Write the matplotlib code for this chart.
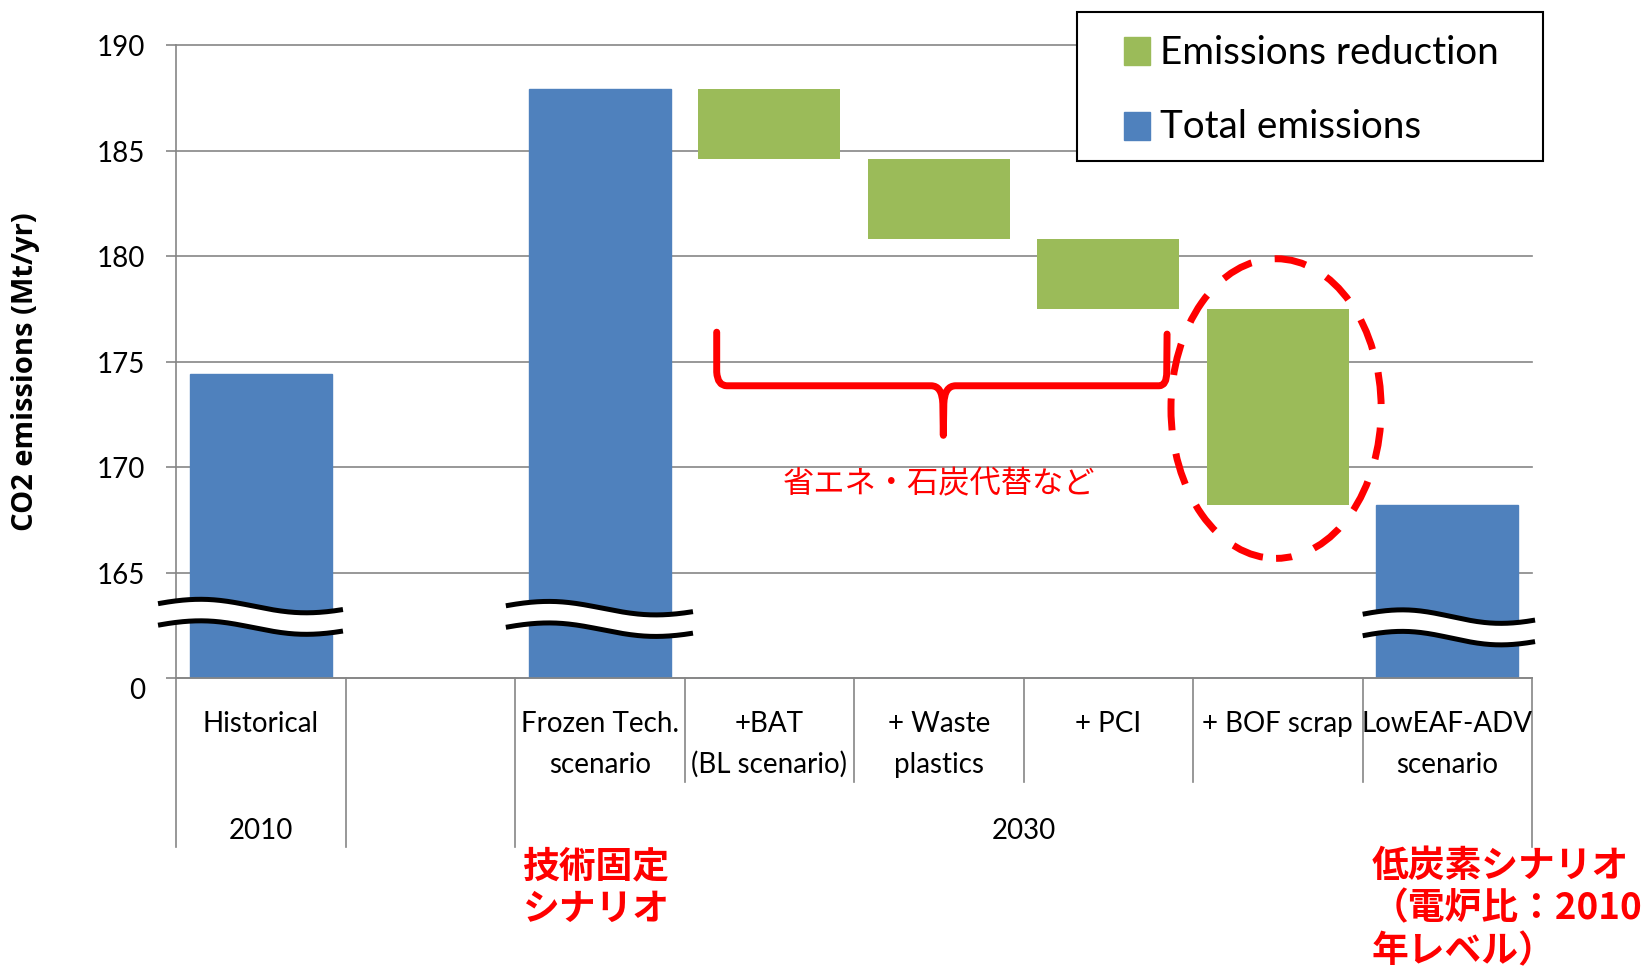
import numpy as np
import matplotlib.pyplot as plt
from matplotlib.patches import Ellipse, PathPatch, Rectangle
from matplotlib.path import Path
from matplotlib.transforms import ScaledTranslation, blended_transform_factory

plt.rcParams['font.family'] = ['Lato', 'Noto Sans CJK JP', 'DejaVu Sans']

# categories on the x axis; slot 1 is an empty spacer between 2010 and 2030
categories = ["Historical", "", "Frozen Tech.\nscenario", "+BAT\n(BL scenario)",
              "+ Waste\nplastics", "+ PCI", "+ BOF scrap", "LowEAF-ADV\nscenario"]
# total CO2 emissions (Mt/yr); 0 for the step categories, nan for the spacer
total_emissions = [174.4, np.nan, 187.9, 0, 0, 0, 0, 168.2]
# reduction of each measure, applied one after another from the frozen tech. level
reductions = [3.3, 3.8, 3.3, 9.3]
reduction_cats = [3, 4, 5, 6]
# year groups: label, first category, last category
year_groups = [("2010", 0, 0), ("2030", 2, 7)]
# broken axis: the bottom tick stands for 0
tick_values = [160, 165, 170, 175, 180, 185, 190]
tick_labels = ["0", "165", "170", "175", "180", "185", "190"]
FLOOR = 160

BLUE = "#4F81BD"
GREEN = "#9BBB59"
GRID = "#868686"
RED = "#FF0000"

W, H = 1642, 970


def fx(px):
    return px / W


def fy(py):
    return 1 - py / H


def draw_break(ax, left, right, mid):
    # white band between two wavy black lines, drawn over the bar
    t = np.linspace(0, 1, 150)
    wave = np.where(t < 0.23, np.cos(1.21 * (0.23 - t) / 0.23),
                    np.where(t < 0.8, np.cos(np.pi * (t - 0.23) / 0.57),
                             -np.cos(1.03 * (t - 0.8) / 0.2)))
    xs = left + (right - left) * t
    upper = mid + 0.51 + 0.32 * wave
    lower = mid - 0.51 + 0.32 * wave
    ax.fill_between(xs, lower, upper, color='white', lw=0, zorder=4, clip_on=False)
    for ys in (upper, lower):
        ax.plot(xs, ys, color='black', lw=3.6, zorder=5, clip_on=False,
                solid_capstyle='butt')


fig = plt.figure(figsize=(W / 100, H / 100), dpi=100)
ax = fig.add_axes([fx(176), fy(679), fx(1532) - fx(176), fy(46) - fy(679)])

x = np.arange(len(categories))
width = 0.84

tot = np.array(total_emissions, dtype=float)
shown = ~np.isnan(tot)
ax.bar(x[shown], np.clip(tot[shown] - FLOOR, 0, None), width, bottom=FLOOR,
       color=BLUE, edgecolor=BLUE, linewidth=1.0, zorder=2)

red = np.array(reductions)
tops = tot[2] - np.concatenate([[0], np.cumsum(red)[:-1]])
ax.bar(reduction_cats, red, width, bottom=tops - red, color=GREEN, zorder=2)

# ---- axes ----
ax.set_xlim(-0.5, len(categories) - 0.5)
ax.set_ylim(FLOOR, 190)
ax.set_yticks(tick_values, tick_labels)
ax.set_xticks([])
ax.grid(axis='y', color=GRID, lw=1.2)
ax.set_axisbelow(True)
for gl in ax.get_ygridlines():
    gl.set_clip_on(False)
for s in ['top', 'right']:
    ax.spines[s].set_visible(False)
for s in ['left', 'bottom']:
    ax.spines[s].set_color(GRID)
    ax.spines[s].set_linewidth(1.2)
ax.tick_params(axis='y', length=7, width=1.2, color=GRID, pad=15, labelsize=20)
zero_lbl = ax.get_yticklabels()[0]
zero_lbl.set_transform(zero_lbl.get_transform()
                       + ScaledTranslation(0, -7 / 72, fig.dpi_scale_trans))

fig.text(fx(26), fy(372), "CO2 emissions (Mt/yr)", rotation=90, ha='center',
         va='center', fontsize=21, fontweight='bold', family='Open Sans')

# ---- category table under the plot ----
tr = blended_transform_factory(ax.transData, fig.transFigure)
outer = [-0.5, 0.5, 1.5, len(categories) - 0.5]
for b in np.arange(-0.5, len(categories)):
    end = 848 if b in outer else 783
    ax.plot([b, b], [fy(679), fy(end)], color=GRID, lw=1.2, transform=tr,
            clip_on=False)

for xi, cat in zip(x, categories):
    for k, line in enumerate(cat.split("\n")):
        ax.text(xi, fy(732 + 41 * k), line, ha='center', va='baseline',
                fontsize=20, transform=tr)

for label, first, last in year_groups:
    ax.text((first + last) / 2, fy(839), label, ha='center', va='baseline',
            fontsize=20, transform=tr)

# ---- axis breaks ----
draw_break(ax, -0.606, 0.485, 162.9)
draw_break(ax, 1.446, 2.55, 162.8)
draw_break(ax, 6.501, 7.518, 162.4)

# ---- brace over the first three measures ----
verts = [(2.69, 176.39), (2.69, 174.5), (2.695, 173.85), (2.75, 173.85),
         (3.955, 173.85), (4.02, 173.85), (4.024, 173.0), (4.027, 171.5),
         (4.03, 173.0), (4.034, 173.85), (4.10, 173.85),
         (5.30, 173.85), (5.345, 173.85), (5.345, 174.5), (5.347, 176.3)]
codes = [Path.MOVETO, Path.LINETO, Path.CURVE3, Path.CURVE3,
         Path.LINETO, Path.CURVE3, Path.CURVE3, Path.LINETO,
         Path.LINETO, Path.CURVE3, Path.CURVE3,
         Path.LINETO, Path.CURVE3, Path.CURVE3, Path.LINETO]
ax.add_patch(PathPatch(Path(verts, codes), fill=False, edgecolor=RED, lw=5,
                       capstyle='round', joinstyle='round', zorder=6))
ax.text(4.0, 169.24, "省エネ・石炭代替など", ha='center', va='center', color=RED,
        fontsize=22.5, family=['Noto Sans CJK JP'], zorder=6)

# ---- dashed ring around the BOF scrap step ----
ax.add_patch(Ellipse((5.99, 172.77), 1.24, 14.2, fill=False, edgecolor=RED,
                     lw=5, linestyle=(2.3, (4.6, 3.4)), zorder=6))

# ---- scenario notes ----
cjk_bold = dict(color=RED, fontsize=26.5, fontweight='bold', family=['Noto Sans CJK JP'],
                ha='left', va='center')
for k, line in enumerate(["技術固定", "シナリオ"]):
    fig.text(fx(523), fy(867 + 42 * k), line, **cjk_bold)
for k, line in enumerate(["低炭素シナリオ", "（電炉比：2010", "年レベル）"]):
    fig.text(fx(1372), fy(866 + 43 * k), line, **cjk_bold)

# ---- legend ----
fig.add_artist(Rectangle((fx(1077), fy(162)), fx(1543) - fx(1077), fy(13) - fy(162),
                         transform=fig.transFigure, facecolor='white',
                         edgecolor='black', lw=1.5, zorder=10))
for color, label, top, base in [(GREEN, "Emissions reduction", 38, 64),
                                (BLUE, "Total emissions", 113, 138)]:
    fig.add_artist(Rectangle((fx(1124), fy(top + 28)), fx(26), 28 / H,
                             transform=fig.transFigure, color=color, zorder=11))
    fig.text(fx(1160), fy(base), label, fontsize=27.8, va='baseline', zorder=11)

fig.savefig("out.png", dpi=100)
